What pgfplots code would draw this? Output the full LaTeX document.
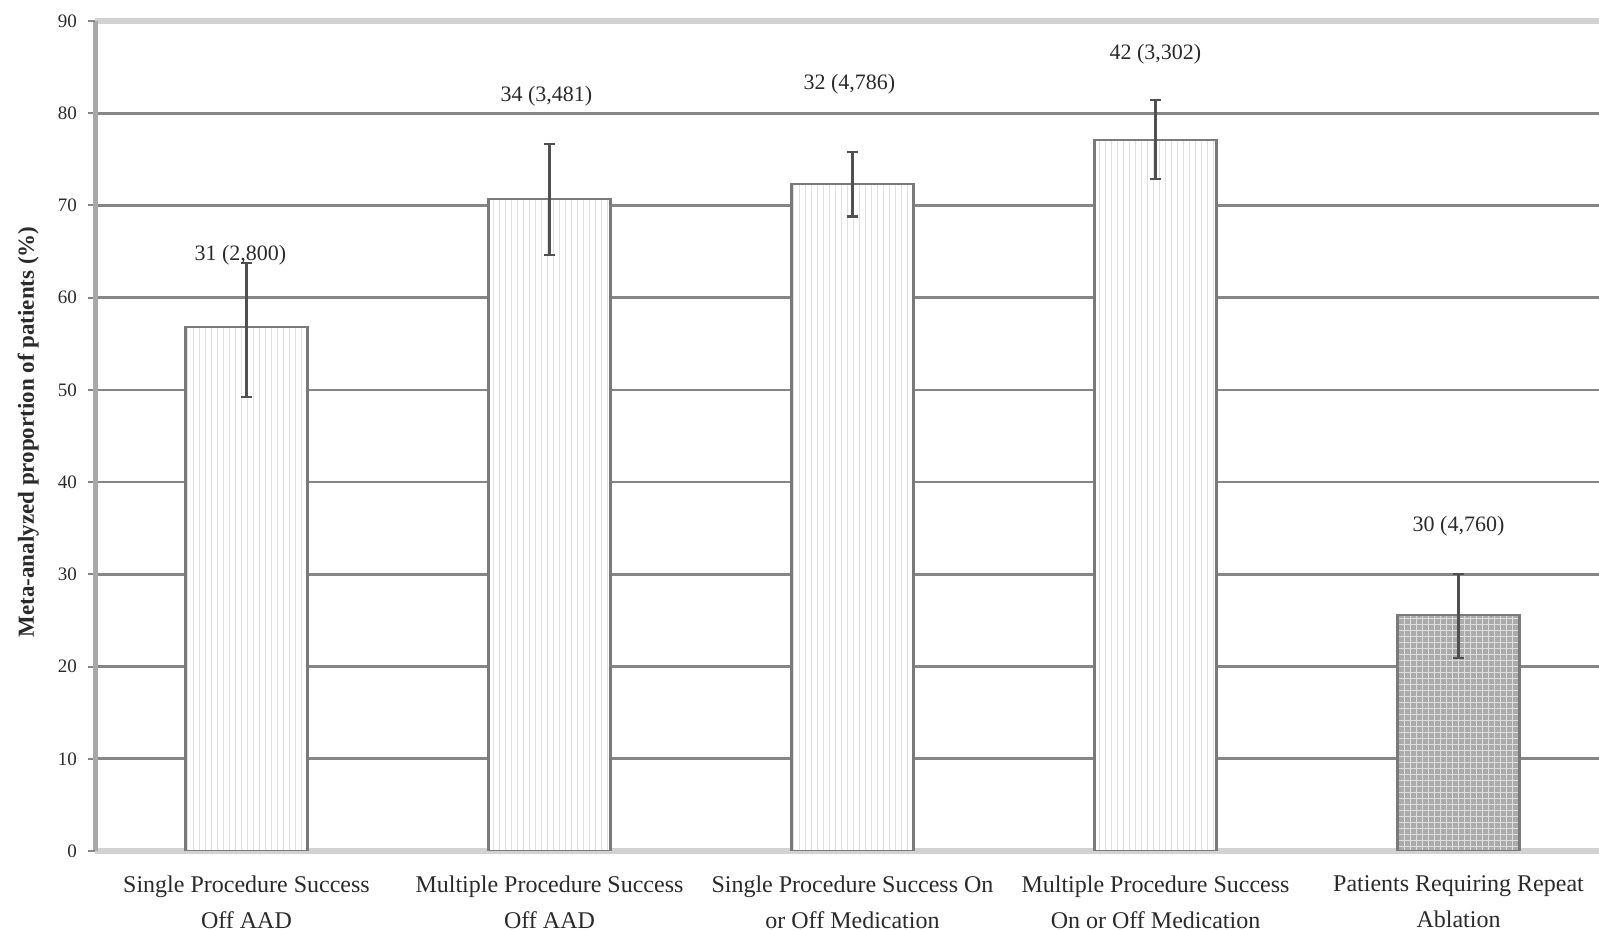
\documentclass[border=0pt]{standalone}
\usepackage{fontspec}
\setmainfont{Liberation Serif}
\usepackage{pgfplots}
\pgfplotsset{compat=1.18}
\usetikzlibrary{patterns}

\definecolor{gridc}{HTML}{868686}
\definecolor{framec}{HTML}{D2D2D2}
\definecolor{leftc}{HTML}{A8A8A8}
\definecolor{barc}{HTML}{7A7A7A}
\definecolor{stripec}{HTML}{E0E0E0}
\definecolor{gridfill}{HTML}{ABABAB}
\definecolor{gridline}{HTML}{DEDEDE}
\definecolor{errc}{HTML}{505050}
\definecolor{txtc}{HTML}{2A2A2A}

% bar heights with upper/lower confidence limits
\pgfplotstableread{
x  y     ep   em
0  56.8  7.0  7.6
1  70.7  6.0  6.1
2  72.3  3.5  3.5
3  77.1  4.3  4.2
4  25.6  4.4  4.7
}\results

\begin{document}
\begin{tikzpicture}
\useasboundingbox (0,0) rectangle (799.5pt,465pt);
\clip (0,0) rectangle (799.5pt,465pt);
\begin{axis}[
  at={(47.5pt,39.5pt)}, anchor=south west,
  scale only axis, width=757.5pt, height=415pt,
  xmin=-0.5, xmax=4.5, ymin=0, ymax=90,
  separate axis lines,
  x axis line style={framec, line width=3pt},
  y axis line style={leftc, line width=2.5pt},
  ytick={10,20,...,80},
  extra y ticks={0,90},
  extra y tick style={grid=none},
  ymajorgrids,
  major grid style={gridc, line width=1.3pt},
  tick align=outside,
  major tick length=3.5pt,
  ytick style={gridc, line width=1pt},
  xtick={0,1,2,3,4},
  xtick style={draw=none},
  xticklabels={
    {Single Procedure Success\\Off AAD},
    {Multiple Procedure Success\\Off AAD},
    {Single Procedure Success On\\or Off Medication},
    {Multiple Procedure Success\\On or Off Medication},
    {Patients Requiring Repeat\\Ablation}},
  xticklabel style={align=center, text=txtc, font=\fontsize{12}{18}\selectfont, yshift=-5.5pt},
  yticklabel style={text=txtc, font=\fontsize{9.5}{11}\selectfont, xshift=-2pt},
  /pgf/number format/assume math mode=true,
  ylabel={Meta-analyzed proportion of patients (\%)},
  ylabel style={at={(axis description cs:-0.044,0.505)}, anchor=center,
    text=txtc, font=\fontsize{11.5}{13}\selectfont\bfseries},
]
% success bars
\addplot[ybar, bar width=61pt, bar shift=0pt, draw=barc, line width=1.2pt,
  fill=white, postaction={pattern=vertical lines, pattern color=stripec}]
  table[x=x, y=y] {
x y
0 56.8
1 70.7
2 72.3
3 77.1
};
% repeat ablation bar
\addplot[ybar, bar width=61pt, bar shift=0pt, draw=barc, line width=1.2pt,
  fill=gridfill, postaction={pattern=grid, pattern color=gridline}]
  table[x=x, y=y] {
x y
4 25.6
};
% confidence intervals
\addplot[forget plot, draw=none, mark=none,
  error bars/.cd, y dir=both, y explicit,
  error bar style={draw=errc, line width=1.1pt},
  error mark options={rotate=90, mark size=2.6pt, draw=errc, line width=1.1pt}]
  table[x=x, y=y, y error plus=ep, y error minus=em] {\results};
% study counts (patients)
\begin{scope}[every node/.style={text=txtc, font=\fontsize{11}{13}\selectfont}]
\node at (axis cs:-0.02,64.6) {31 (2,800)};
\node at (axis cs:0.99,81.8) {34 (3,481)};
\node at (axis cs:1.99,83.1) {32 (4,786)};
\node at (axis cs:3,86.4) {42 (3,302)};
\node at (axis cs:4,35.2) {30 (4,760)};
\end{scope}
\end{axis}
\end{tikzpicture}
\end{document}
